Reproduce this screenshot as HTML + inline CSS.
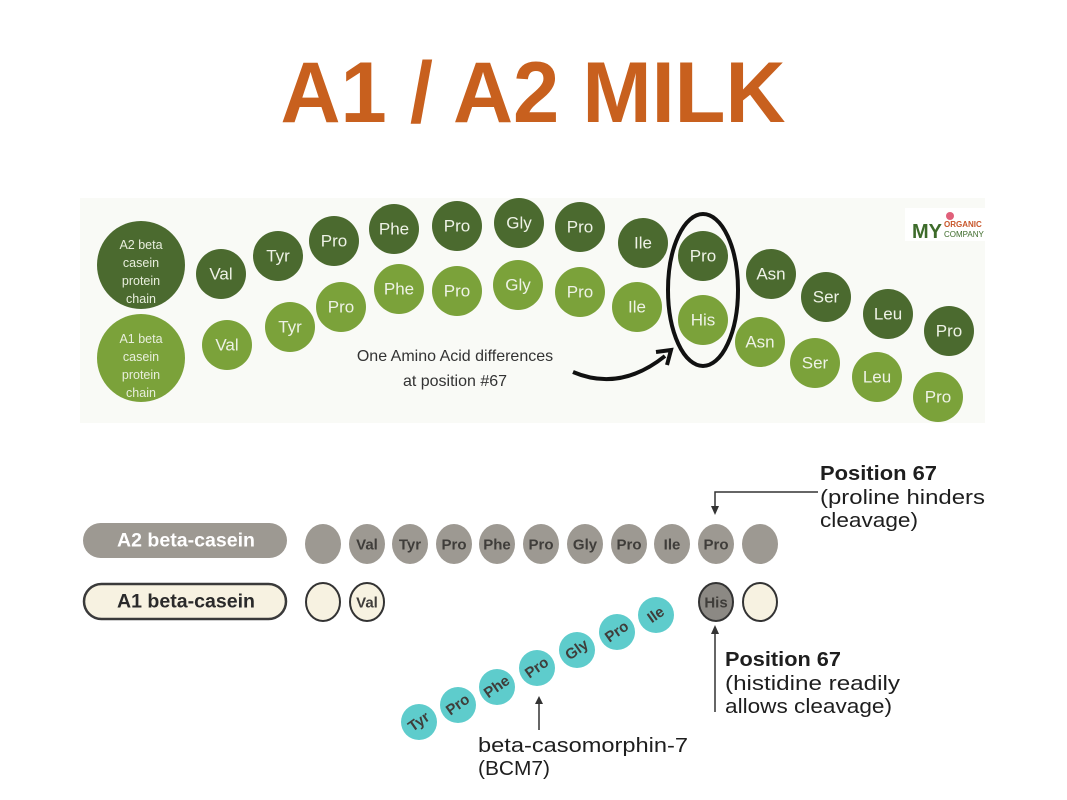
<!DOCTYPE html>
<html><head><meta charset="utf-8"><style>
html,body{margin:0;padding:0;background:#fff;}
svg{display:block;font-family:"Liberation Sans",sans-serif;}
.d{fill:#4b6a2f}.l{fill:#7ba23a}
.t{fill:#eef2e6;font-size:17px;text-anchor:middle;dominant-baseline:central}
.g{fill:#9d9992}
.bt{font-family:"Liberation Sans",sans-serif;font-weight:bold;font-size:15px;fill:#3f3d3a;text-anchor:middle;dominant-baseline:central}
.tc{fill:#5ecccc}
.lab{font-weight:bold;font-size:20px;fill:#1e1e1e}
.nl{font-size:20px;fill:#1e1e1e}
</style></head><body>
<svg width="1067" height="800" viewBox="0 0 1067 800">
<text x="533" y="122" text-anchor="middle" font-size="86" font-weight="bold" fill="#c8601e" textLength="505" lengthAdjust="spacingAndGlyphs">A1 / A2 MILK</text>

<rect x="80" y="198" width="905" height="225" fill="#f9faf6"/>
<circle cx="141" cy="265" r="44" class="d"/>
<circle cx="141" cy="358" r="44" class="l"/>
<g style="font-size:12.5px;fill:#e8eedd;text-anchor:middle">
<text x="141" y="249">A2 beta</text><text x="141" y="267">casein</text><text x="141" y="285">protein</text><text x="141" y="303">chain</text>
<text x="141" y="343">A1 beta</text><text x="141" y="361">casein</text><text x="141" y="379">protein</text><text x="141" y="397">chain</text>
</g>
<g>
<circle cx="221" cy="274" r="25" class="d"/><text x="221" y="274" class="t">Val</text>
<circle cx="278" cy="256" r="25" class="d"/><text x="278" y="256" class="t">Tyr</text>
<circle cx="334" cy="241" r="25" class="d"/><text x="334" y="241" class="t">Pro</text>
<circle cx="394" cy="229" r="25" class="d"/><text x="394" y="229" class="t">Phe</text>
<circle cx="457" cy="226" r="25" class="d"/><text x="457" y="226" class="t">Pro</text>
<circle cx="519" cy="223" r="25" class="d"/><text x="519" y="223" class="t">Gly</text>
<circle cx="580" cy="227" r="25" class="d"/><text x="580" y="227" class="t">Pro</text>
<circle cx="643" cy="243" r="25" class="d"/><text x="643" y="243" class="t">Ile</text>
<circle cx="703" cy="256" r="25" class="d"/><text x="703" y="256" class="t">Pro</text>
<circle cx="771" cy="274" r="25" class="d"/><text x="771" y="274" class="t">Asn</text>
<circle cx="826" cy="297" r="25" class="d"/><text x="826" y="297" class="t">Ser</text>
<circle cx="888" cy="314" r="25" class="d"/><text x="888" y="314" class="t">Leu</text>
<circle cx="949" cy="331" r="25" class="d"/><text x="949" y="331" class="t">Pro</text>

<circle cx="227" cy="345" r="25" class="l"/><text x="227" y="345" class="t">Val</text>
<circle cx="290" cy="327" r="25" class="l"/><text x="290" y="327" class="t">Tyr</text>
<circle cx="341" cy="307" r="25" class="l"/><text x="341" y="307" class="t">Pro</text>
<circle cx="399" cy="289" r="25" class="l"/><text x="399" y="289" class="t">Phe</text>
<circle cx="457" cy="291" r="25" class="l"/><text x="457" y="291" class="t">Pro</text>
<circle cx="518" cy="285" r="25" class="l"/><text x="518" y="285" class="t">Gly</text>
<circle cx="580" cy="292" r="25" class="l"/><text x="580" y="292" class="t">Pro</text>
<circle cx="637" cy="307" r="25" class="l"/><text x="637" y="307" class="t">Ile</text>
<circle cx="703" cy="320" r="25" class="l"/><text x="703" y="320" class="t">His</text>
<circle cx="760" cy="342" r="25" class="l"/><text x="760" y="342" class="t">Asn</text>
<circle cx="815" cy="363" r="25" class="l"/><text x="815" y="363" class="t">Ser</text>
<circle cx="877" cy="377" r="25" class="l"/><text x="877" y="377" class="t">Leu</text>
<circle cx="938" cy="397" r="25" class="l"/><text x="938" y="397" class="t">Pro</text>
</g>
<ellipse cx="703" cy="290" rx="35" ry="76" fill="none" stroke="#111" stroke-width="4"/>
<text x="455" y="361" text-anchor="middle" font-size="16" fill="#333">One Amino Acid differences</text>
<text x="455" y="386" text-anchor="middle" font-size="16" fill="#333">at position #67</text>
<path d="M573 372 Q620 392 665 356" fill="none" stroke="#111" stroke-width="4"/>
<path d="M656 352 L671 350 L667 365" fill="none" stroke="#111" stroke-width="4"/>
<rect x="905" y="208" width="80" height="33" fill="#fff"/>
<text x="912" y="238" font-size="20" font-weight="bold" fill="#3d6b2a">MY</text>
<text x="944" y="227" font-size="8" font-weight="bold" fill="#c8562a">ORGANIC</text>
<text x="944" y="237" font-size="8" fill="#3d6b2a">COMPANY</text>
<circle cx="950" cy="216" r="4" fill="#e0607a"/>

<rect x="83" y="523" width="204" height="35" rx="17.5" class="g"/>
<text x="186" y="541" text-anchor="middle" dominant-baseline="central" font-weight="bold" font-size="19" fill="#fff" textLength="138" lengthAdjust="spacingAndGlyphs">A2 beta-casein</text>
<rect x="84" y="584" width="202" height="35" rx="17.5" fill="#f7f2e1" stroke="#3a3a3a" stroke-width="2.5"/>
<text x="186" y="602" text-anchor="middle" dominant-baseline="central" font-weight="bold" font-size="19" fill="#2a2a2a" textLength="138" lengthAdjust="spacingAndGlyphs">A1 beta-casein</text>
<g>
<ellipse cx="323" cy="544" rx="18" ry="20" class="g"/>
<ellipse cx="367" cy="544" rx="18" ry="20" class="g"/><text x="367" y="545" class="bt">Val</text>
<ellipse cx="410" cy="544" rx="18" ry="20" class="g"/><text x="410" y="545" class="bt">Tyr</text>
<ellipse cx="454" cy="544" rx="18" ry="20" class="g"/><text x="454" y="545" class="bt">Pro</text>
<ellipse cx="497" cy="544" rx="18" ry="20" class="g"/><text x="497" y="545" class="bt">Phe</text>
<ellipse cx="541" cy="544" rx="18" ry="20" class="g"/><text x="541" y="545" class="bt">Pro</text>
<ellipse cx="585" cy="544" rx="18" ry="20" class="g"/><text x="585" y="545" class="bt">Gly</text>
<ellipse cx="629" cy="544" rx="18" ry="20" class="g"/><text x="629" y="545" class="bt">Pro</text>
<ellipse cx="672" cy="544" rx="18" ry="20" class="g"/><text x="672" y="545" class="bt">Ile</text>
<ellipse cx="716" cy="544" rx="18" ry="20" class="g"/><text x="716" y="545" class="bt">Pro</text>
<ellipse cx="760" cy="544" rx="18" ry="20" class="g"/>
<ellipse cx="323" cy="602" rx="17" ry="19" fill="#f7f2e1" stroke="#333" stroke-width="2"/>
<ellipse cx="367" cy="602" rx="17" ry="19" fill="#f7f2e1" stroke="#333" stroke-width="2"/><text x="367" y="603" class="bt">Val</text>
<ellipse cx="716" cy="602" rx="17" ry="19" fill="#8c8984" stroke="#333" stroke-width="2"/><text x="716" y="603" class="bt">His</text>
<ellipse cx="760" cy="602" rx="17" ry="19" fill="#f7f2e1" stroke="#333" stroke-width="2"/>
</g>
<g>
<circle cx="419" cy="722" r="18" class="tc"/><text x="419" y="722" class="bt" transform="rotate(-35 419 722)">Tyr</text>
<circle cx="458" cy="705" r="18" class="tc"/><text x="458" y="705" class="bt" transform="rotate(-35 458 705)">Pro</text>
<circle cx="497" cy="687" r="18" class="tc"/><text x="497" y="687" class="bt" transform="rotate(-35 497 687)">Phe</text>
<circle cx="537" cy="668" r="18" class="tc"/><text x="537" y="668" class="bt" transform="rotate(-35 537 668)">Pro</text>
<circle cx="577" cy="650" r="18" class="tc"/><text x="577" y="650" class="bt" transform="rotate(-35 577 650)">Gly</text>
<circle cx="617" cy="632" r="18" class="tc"/><text x="617" y="632" class="bt" transform="rotate(-35 617 632)">Pro</text>
<circle cx="656" cy="615" r="18" class="tc"/><text x="656" y="615" class="bt" transform="rotate(-35 656 615)">Ile</text>
</g>
<line x1="539" y1="730" x2="539" y2="703" stroke="#333" stroke-width="1.5"/>
<path d="M535 704 L539 696 L543 704Z" fill="#333"/>
<text x="478" y="752" class="nl" textLength="210" lengthAdjust="spacingAndGlyphs">beta-casomorphin-7</text>
<text x="478" y="775" class="nl" textLength="72" lengthAdjust="spacingAndGlyphs">(BCM7)</text>
<line x1="715" y1="712" x2="715" y2="632" stroke="#333" stroke-width="1.5"/>
<path d="M711 634 L715 625 L719 634Z" fill="#333"/>
<text x="725" y="666" class="lab" textLength="116" lengthAdjust="spacingAndGlyphs">Position 67</text>
<text x="725" y="690" class="nl" textLength="175" lengthAdjust="spacingAndGlyphs">(histidine readily</text>
<text x="725" y="713" class="nl" textLength="167" lengthAdjust="spacingAndGlyphs">allows cleavage)</text>
<path d="M818 492 L715 492 L715 508" fill="none" stroke="#333" stroke-width="1.5"/>
<path d="M711 506 L715 515 L719 506Z" fill="#333"/>
<text x="820" y="480" class="lab" textLength="117" lengthAdjust="spacingAndGlyphs">Position 67</text>
<text x="820" y="504" class="nl" textLength="165" lengthAdjust="spacingAndGlyphs">(proline hinders</text>
<text x="820" y="527" class="nl" textLength="98" lengthAdjust="spacingAndGlyphs">cleavage)</text>
</svg>
</body></html>
